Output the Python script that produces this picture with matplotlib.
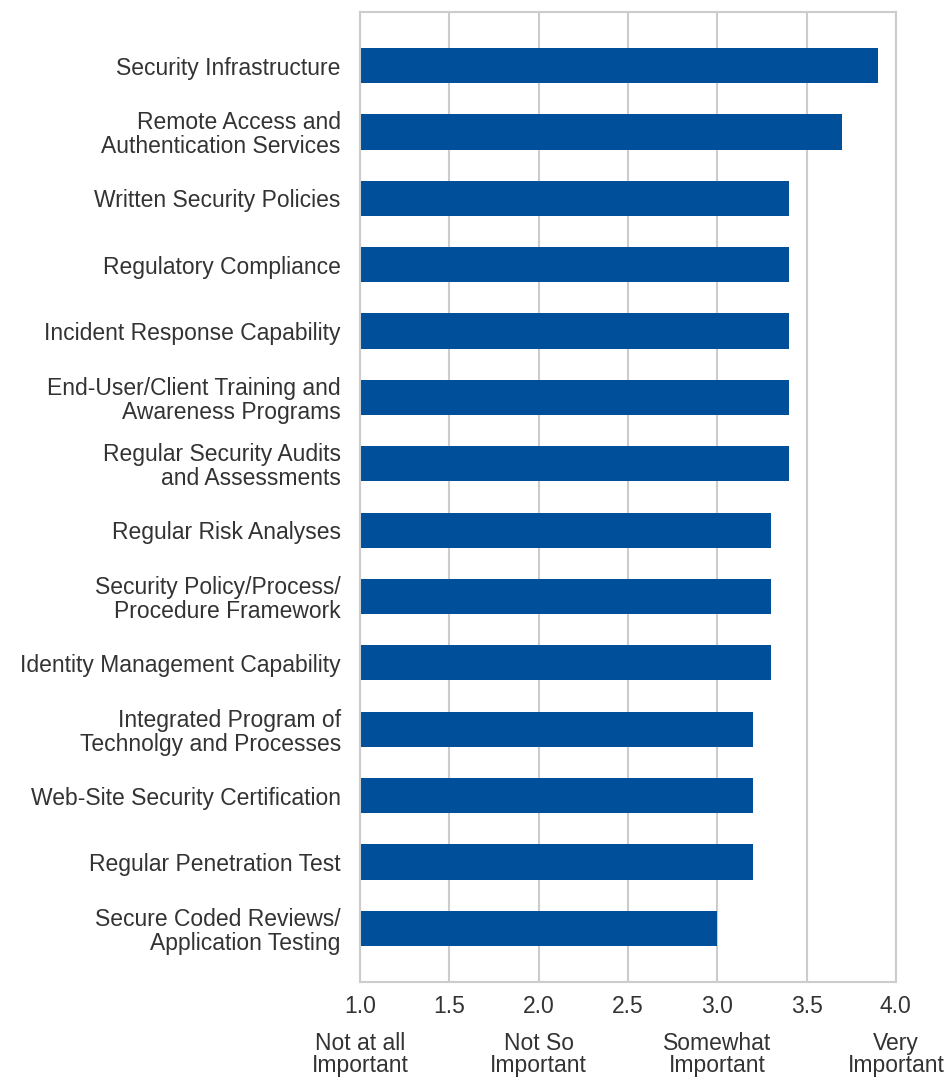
import matplotlib.pyplot as plt
import matplotlib.transforms as mtransforms

# Dados
categorias = [
    "Security Infrastructure",
    "Remote Access and\nAuthentication Services",
    "Written Security Policies",
    "Regulatory Compliance",
    "Incident Response Capability",
    "End-User/Client Training and\nAwareness Programs",
    "Regular Security Audits\nand Assessments",
    "Regular Risk Analyses",
    "Security Policy/Process/\nProcedure Framework",
    "Identity Management Capability",
    "Integrated Program of\nTechnolgy and Processes",
    "Web-Site Security Certification",
    "Regular Penetration Test",
    "Secure Coded Reviews/\nApplication Testing",
]
valores = [3.9, 3.7, 3.4, 3.4, 3.4, 3.4, 3.4, 3.3, 3.3, 3.3, 3.2, 3.2, 3.2, 3.0]
ticks_x = [1.0, 1.5, 2.0, 2.5, 3.0, 3.5, 4.0]
escala_pos = [1.0, 2.0, 3.0, 4.0]
escala_txt = ["Not at all\nImportant", "Not So\nImportant", "Somewhat\nImportant", "Very\nImportant"]

plt.rcParams['font.family'] = ['Liberation Sans', 'DejaVu Sans']
cor_texto = '#333333'
tam = 16.5

fig = plt.figure(figsize=(9.53, 10.78), dpi=100)
ax = fig.add_axes([0.378, 0.089, 0.562, 0.900])

posicoes = list(range(len(categorias)))
ax.barh(posicoes, [v - 1.0 for v in valores], left=1.0, height=0.53, color='#004F9A')

ax.set_xlim(1.0, 4.0)
ax.set_ylim(len(categorias) - 1 + 0.81, -0.81)
ax.set_yticks(posicoes)
ax.set_yticklabels(categorias, fontsize=tam, color=cor_texto, linespacing=1.05)
ax.set_xticks(ticks_x)
ax.set_xticklabels([f"{t:.1f}" for t in ticks_x], fontsize=tam, color=cor_texto)
ax.tick_params(axis='both', length=0)
ax.tick_params(axis='y', pad=14)
ax.tick_params(axis='x', pad=9)

ax.grid(axis='x', color='#cccccc', linewidth=1.5)
ax.set_axisbelow(True)
for lado in ax.spines.values():
    lado.set_color('#cccccc')
    lado.set_linewidth(1.5)

# Rótulos da escala abaixo do eixo
trans = mtransforms.blended_transform_factory(ax.transData, fig.transFigure)
for x, txt in zip(escala_pos, escala_txt):
    ax.text(x, 1 / 1078, txt, transform=trans, ha='center', va='bottom',
            fontsize=tam, color=cor_texto, linespacing=0.95, clip_on=False)

fig.savefig('out.png', dpi=100)
